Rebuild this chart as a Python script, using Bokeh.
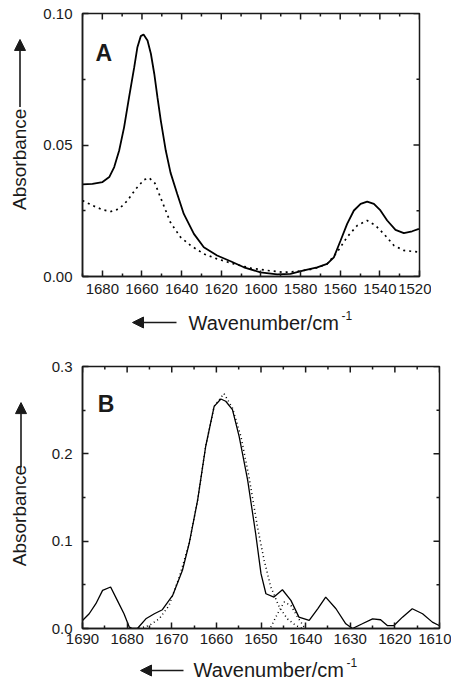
import math
from bokeh.plotting import figure
from bokeh.models import Range1d, FixedTicker, NumeralTickFormatter, Label, Arrow, NormalHead
from bokeh.layouts import column, row
from bokeh.embed import file_html
from bokeh.resources import INLINE

# ---------------- data: panel A ----------------
a_solid_wn = [1690, 1685, 1679.9, 1676.5, 1674, 1671.5, 1669, 1666.5, 1663.9, 1662.3,
              1660.6, 1659.2, 1657.2, 1655.5, 1653.8, 1652.2, 1650.5, 1648, 1645.6,
              1642.2, 1638.9, 1633.8, 1628.8, 1622.1, 1615.3, 1608.6, 1600.2, 1591.8,
              1585.1, 1578.3, 1571.6, 1566.6, 1563.2, 1559.8, 1556.5, 1553.1, 1549.7,
              1546.4, 1543, 1539.7, 1536.3, 1532.1, 1527.9, 1523.7, 1520.3]
a_solid_abs = [0.0350, 0.0352, 0.0359, 0.0378, 0.0416, 0.0479, 0.0568, 0.0682, 0.0796, 0.0872,
               0.0914, 0.0920, 0.0897, 0.0847, 0.0771, 0.0682, 0.0593, 0.0479, 0.0395,
               0.0314, 0.0238, 0.0162, 0.0111, 0.0080, 0.0058, 0.0035, 0.0016, 0.0008,
               0.0010, 0.0023, 0.0035, 0.0048, 0.0073, 0.0137, 0.0200, 0.0251, 0.0276,
               0.0285, 0.0276, 0.0251, 0.0213, 0.0177, 0.0165, 0.0172, 0.0181]

a_dot_wn = [1690, 1685, 1679.9, 1675.7, 1671.5, 1667.3, 1663.1, 1658.9, 1656.4, 1653.5,
            1649.3, 1645.6, 1640.6, 1635.5, 1628.8, 1622.1, 1613.7, 1605.2, 1596.8,
            1588.4, 1581.7, 1573.3, 1566.6, 1561.5, 1556.5, 1551.4, 1546.4, 1542.2,
            1538, 1532.9, 1527.9, 1522.8, 1520.3]
a_dot_abs = [0.0289, 0.0270, 0.0254, 0.0247, 0.0257, 0.0289, 0.0333, 0.0368, 0.0375, 0.0355,
             0.0275, 0.0205, 0.0150, 0.0118, 0.0086, 0.0067, 0.0048, 0.0032, 0.0023,
             0.0016, 0.0019, 0.0029, 0.0048, 0.0093, 0.0150, 0.0194, 0.0213, 0.0194,
             0.0162, 0.0118, 0.0099, 0.0095, 0.0093]

# ---------------- data: panel B ----------------
b_solid_wn = [1690, 1688.5, 1687, 1685.5, 1683.7, 1682.2, 1680.7, 1679.5, 1678.8, 1677.7,
              1675.8, 1673.9, 1672.1, 1669.8, 1667.6, 1666.1, 1664.2, 1662.4, 1660.5,
              1659, 1657.9, 1656.4, 1654.9, 1653, 1651.2, 1650, 1648.9, 1647.1, 1645.2,
              1643.3, 1641.5, 1639.2, 1637.3, 1635.5, 1633.2, 1631, 1629.5, 1627.3, 1625,
              1623.2, 1621.7, 1620.2, 1618.3, 1616.1, 1613.8, 1611.6, 1610.1]
b_solid_abs = [0.0092, 0.0169, 0.0284, 0.0437, 0.0475, 0.0322, 0.0169, 0.0015, 0.0, 0.0,
               0.0111, 0.0169, 0.0215, 0.0379, 0.0667, 0.0973, 0.147, 0.2084, 0.2544,
               0.2628, 0.2602, 0.2506, 0.2199, 0.1701, 0.1088, 0.0628, 0.0398, 0.0360, 0.0444,
               0.0322, 0.0130, 0.0092, 0.0226, 0.0360, 0.0226, 0.0054, 0.0, 0.0054, 0.0111,
               0.0100, 0.0034, 0.0034, 0.0130, 0.0226, 0.0169, 0.0073, 0.0034]

b_dot1_wn = [1677.3, 1675.1, 1672.8, 1670.6, 1668.3, 1666.1, 1664.2, 1662.4, 1660.5, 1658.3,
             1656.4, 1654.5, 1652.7, 1650.8, 1649.3, 1647.8, 1645.9, 1644.1, 1642.2, 1640.7]
b_dot1_abs = [0.0, 0.0034, 0.0111, 0.0264, 0.0590, 0.0973, 0.147, 0.2084, 0.2544, 0.2690,
              0.2525, 0.2199, 0.1739, 0.1165, 0.0782, 0.0475, 0.0245, 0.0111, 0.0034, 0.0]

b_dot2_wn = [1647.8, 1646.3, 1644.8, 1643.3, 1641.8, 1640.3]
b_dot2_abs = [0.0015, 0.0169, 0.0303, 0.0264, 0.0130, 0.0015]

# ---------------- ticks ----------------
a_xticks = [1680, 1660, 1640, 1620, 1600, 1580, 1560, 1540, 1520]
a_xminor = [1690, 1670, 1650, 1630, 1610, 1590, 1570, 1550, 1530]
a_yticks = [0.0, 0.05, 0.10]
a_yminor = [0.025, 0.075]
b_xticks = [1690, 1680, 1670, 1660, 1650, 1640, 1630, 1620, 1610]
b_xminor = [1685, 1675, 1665, 1655, 1645, 1635, 1625, 1615]
b_yticks = [0.0, 0.1, 0.2, 0.3]
b_yminor = [0.05, 0.15, 0.25]

FONT = "Liberation Sans"
INK = "#1a1a1a"
MAJ, MIN = 6, 3  # tick lengths in px


def style_axis(ax, ticks, minor, fmt, standoff):
    ax.ticker = FixedTicker(ticks=ticks, minor_ticks=minor)
    ax.major_tick_in = MAJ
    ax.major_tick_out = 0
    ax.minor_tick_in = MIN
    ax.minor_tick_out = 0
    ax.axis_line_color = INK
    ax.axis_line_width = 1.5
    ax.major_tick_line_color = INK
    ax.major_tick_line_width = 1.5
    ax.minor_tick_line_color = INK
    ax.minor_tick_line_width = 1.5
    ax.major_label_text_font = FONT
    ax.major_label_text_font_size = "15px"
    ax.major_label_text_color = INK
    ax.major_label_standoff = standoff
    if fmt:
        ax.formatter = NumeralTickFormatter(format=fmt)


def make_main(xr, yr, fw, fh, top, bottom, xt, xm, yt, ym, yfmt, xstand):
    p = figure(x_range=Range1d(*xr), y_range=Range1d(*yr), frame_width=fw, frame_height=fh,
               output_backend="svg", toolbar_location=None,
               min_border_left=44, min_border_right=12, min_border_top=top,
               min_border_bottom=bottom)
    p.xgrid.visible = False
    p.ygrid.visible = False
    p.outline_line_color = INK
    p.outline_line_width = 1.5
    p.background_fill_color = "white"
    p.border_fill_color = "white"
    style_axis(p.xaxis[0], xt, xm, None, xstand)
    style_axis(p.yaxis[0], yt, ym, yfmt, 10)
    # mirrored ticks on the top and right edges, derived from the tick lists
    dx = (xr[0] - xr[1]) / fw  # data units per px (x reversed)
    dy = (yr[1] - yr[0]) / fh
    top_y = yr[1]
    right_x = xr[1]
    for ticks, ln in ((xt, MAJ), (xm, MIN)):
        p.segment(x0=ticks, y0=[top_y] * len(ticks), x1=ticks,
                  y1=[top_y - ln * dy] * len(ticks), line_color=INK, line_width=1.5)
    for ticks, ln in ((yt, MAJ), (ym, MIN)):
        p.segment(x0=[right_x] * len(ticks), y0=ticks, x1=[right_x + ln * dx] * len(ticks),
                  y1=ticks, line_color=INK, line_width=1.5)
    return p


def make_label_fig(x0, x1, y0, y1):
    """A bare figure whose data units are page pixels (y downwards)."""
    f = figure(width=x1 - x0, height=y1 - y0, x_range=Range1d(x0, x1), y_range=Range1d(y1, y0),
               x_axis_type=None, y_axis_type=None, min_border=0, output_backend="svg",
               toolbar_location=None)
    f.outline_line_color = None
    f.xgrid.visible = False
    f.ygrid.visible = False
    f.background_fill_color = "white"
    f.border_fill_color = "white"
    return f


def add_ylabel(f, x_base, y_center, x_arrow, y_from, y_to):
    f.add_layout(Label(x=x_base, y=y_center, text="Absorbance", angle=math.pi / 2,
                       text_font=FONT, text_font_size="19px", text_color=INK,
                       text_align="center", text_baseline="alphabetic"))
    f.add_layout(Arrow(x_start=x_arrow, y_start=y_from, x_end=x_arrow, y_end=y_to,
                       line_width=1.6, line_color=INK,
                       end=NormalHead(size=11, fill_color=INK, line_color=INK)))


def add_xlabel(f, x_text, y_base, y_arrow, x_from, x_to):
    f.add_layout(Label(x=x_text, y=y_base, text="Wavenumber/cm", text_font=FONT,
                       text_font_size="20px", text_color=INK, text_baseline="alphabetic"))
    f.add_layout(Label(x=x_text + 153, y=y_base - 7, text="-1", text_font=FONT,
                       text_font_size="12px", text_color=INK, text_baseline="alphabetic"))
    f.add_layout(Arrow(x_start=x_from, y_start=y_arrow, x_end=x_to, y_end=y_arrow,
                       line_width=1.6, line_color=INK,
                       end=NormalHead(size=11, fill_color=INK, line_color=INK)))


# ---------------- panel A ----------------
pA = make_main((1690, 1520), (0, 0.10), 337, 263, 13, 28,
               a_xticks, a_xminor, a_yticks, a_yminor, "0.00", 7)
pA.line(a_solid_wn, a_solid_abs, line_color="black", line_width=1.8)
pA.line(a_dot_wn, a_dot_abs, line_color="black", line_width=1.7, line_dash="2 4")
pA.add_layout(Label(x=1683.4, y=0.0848, text="A", text_font=FONT, text_font_size="23px",
                    text_font_style="bold", text_color=INK, text_baseline="alphabetic"))

ylabA = make_label_fig(0, 38, 0, 304)
add_ylabel(ylabA, 19, 168.5, 19.5, 108, 30)
xlabA = make_label_fig(0, 431, 304, 338)
add_xlabel(xlabA, 188, 322, 322, 176, 132)

# ---------------- panel B ----------------
pB = make_main((1690, 1610), (0, 0.3), 357, 262, 28, 22,
               b_xticks, b_xminor, b_yticks, b_yminor, "0.0", 5)
pB.line(b_solid_wn, b_solid_abs, line_color="black", line_width=1.3)
pB.line(b_dot1_wn, b_dot1_abs, line_color="black", line_width=1.5, line_dash="1 3")
pB.line(b_dot2_wn, b_dot2_abs, line_color="black", line_width=1.5, line_dash="1 3")
pB.add_layout(Label(x=1686.6, y=0.2576, text="B", text_font=FONT, text_font_size="23px",
                    text_font_style="bold", text_color=INK, text_baseline="alphabetic"))

ylabB = make_label_fig(0, 38, 338, 650)
add_ylabel(ylabB, 19, 515.5, 20.5, 458, 381)
xlabB = make_label_fig(0, 451, 650, 682)
add_xlabel(xlabB, 193, 669, 670, 183, 140)

layout = column(row(ylabA, pA), xlabA, row(ylabB, pB), xlabB)
open("out.html", "w").write(file_html(layout, INLINE))
